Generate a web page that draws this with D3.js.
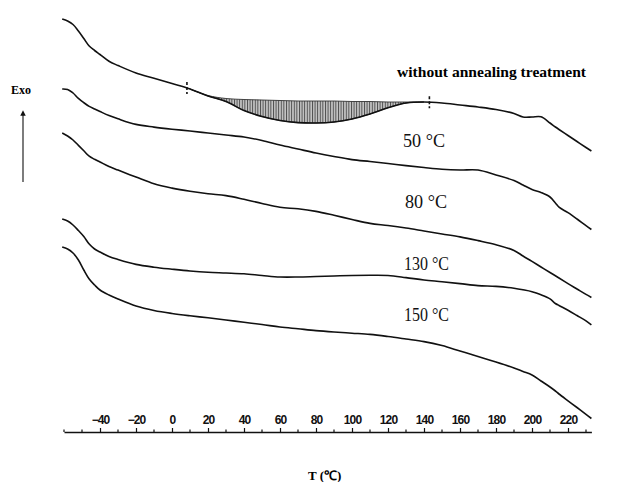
<!DOCTYPE html>
<html>
<head>
<meta charset="utf-8">
<script src="https://cdn.jsdelivr.net/npm/d3@7"></script>
<style>
  body { margin: 0; background: #fff; }
  svg { display: block; }
</style>
</head>
<body>
<div id="chart"></div>
<script>
// temperature grid (°C) shared by every trace
const temps = [-61, -58, -55, -52, -49, -46, -43, -40, -35, -30, -20, -10, 0, 10, 20, 30, 40, 50, 60, 70, 80,
               90, 100, 110, 120, 130, 140, 150, 160, 170, 180, 190, 195, 200, 205, 210, 213, 215, 220, 225, 230, 233];

// DSC heat flow, arbitrary units (larger = further down the page)
const noAnneal = [0.90, 1.10, 1.45, 2.10, 2.85, 3.60, 4.05, 4.45, 5.13, 5.55, 6.30, 6.82, 7.36, 7.90, 8.60, 9.15, 10.05,
                  10.65, 11.05, 11.26, 11.30, 11.20, 10.90, 10.40, 9.77, 9.30, 9.20, 9.30, 9.50, 9.70, 9.95, 10.35,
                  10.70, 10.70, 10.68, 11.30, 11.70, 11.95, 12.55, 13.15, 13.75, 14.10];
const anneal50 = [7.90, 7.95, 8.30, 8.84, 9.27, 9.64, 9.90, 10.15, 10.55, 10.88, 11.44, 11.71, 11.92, 12.10, 12.30, 12.50,
                  12.70, 13.05, 13.50, 13.90, 14.30, 14.65, 14.96, 15.15, 15.35, 15.56, 15.75, 15.92, 16.00, 16.00,
                  16.50, 17.05, 17.50, 17.95, 18.25, 18.70, 19.30, 19.72, 20.27, 20.90, 21.57, 21.95];
const anneal80 = [12.30, 12.60, 13.00, 13.54, 14.08, 14.62, 14.93, 15.20, 15.65, 16.01, 16.71, 17.38, 17.81, 18.13, 18.38,
                  18.56, 18.93, 19.35, 19.73, 19.88, 20.14, 20.53, 20.95, 21.34, 21.55, 21.80, 22.10, 22.40, 22.69,
                  23.06, 23.47, 24.04, 24.60, 25.14, 25.70, 26.25, 26.58, 26.80, 27.36, 27.90, 28.44, 28.75];
const anneal130 = [20.90, 21.10, 21.50, 22.05, 22.65, 23.40, 23.90, 24.20, 24.65, 24.95, 25.44, 25.72, 25.92, 26.10, 26.23,
                   26.30, 26.38, 26.55, 26.70, 26.70, 26.65, 26.60, 26.55, 26.53, 26.55, 26.76, 27.00, 27.17, 27.36,
                   27.56, 27.64, 27.83, 27.98, 28.17, 28.48, 28.89, 29.35, 29.55, 30.03, 30.55, 31.08, 31.48];
const anneal150 = [23.70, 23.90, 24.30, 25.00, 26.00, 26.90, 27.50, 28.00, 28.50, 28.90, 29.60, 30.05, 30.35, 30.58, 30.78,
                   31.00, 31.23, 31.45, 31.70, 31.88, 32.06, 32.20, 32.32, 32.44, 32.65, 32.90, 33.16, 33.56, 34.10,
                   34.64, 35.20, 35.80, 36.15, 36.50, 37.10, 37.70, 38.10, 38.40, 39.08, 39.75, 40.44, 40.85];

// baseline of the hatched relaxation peak (untreated sample)
const peakTemps = [10, 20, 30, 40, 50, 60, 70, 80, 90, 100, 110, 120, 130, 140];
const peakBase = [7.90, 8.55, 8.85, 8.95, 9.00, 9.05, 9.10, 9.10, 9.10, 9.15, 9.15, 9.20, 9.20, 9.20];
const peakLimits = [8.3, 143];

const seriesLabels = ["without annealing treatment", "50 °C", "80 °C", "130 °C", "150 °C"];
const tickLabels = [-40, -20, 0, 20, 40, 60, 80, 100, 120, 140, 160, 180, 200, 220];
const minorTicks = d3.range(-60, 231, 10);

const width = 629, height = 482;

const svg = d3.select("#chart").append("svg")
    .attr("width", width)
    .attr("height", height);

const x = d3.scaleLinear().domain([-60, 233]).range([64, 591.4]);
const y = d3.scaleLinear().domain([0, 42]).range([10, 430]);

const series = [noAnneal, anneal50, anneal80, anneal130, anneal150];

const line = d3.line()
    .x(d => x(d[0]))
    .y(d => y(d[1]))
    .curve(d3.curveCatmullRom.alpha(0.5));

// hatch pattern for the enthalpy relaxation area
const defs = svg.append("defs");
const pat = defs.append("pattern")
    .attr("id", "hatch")
    .attr("patternUnits", "userSpaceOnUse")
    .attr("width", 2.6)
    .attr("height", 6);
pat.append("rect").attr("width", 2.6).attr("height", 6).attr("fill", "#c4c4c4");
pat.append("line")
    .attr("x1", 0.5).attr("x2", 0.5).attr("y1", 0).attr("y2", 6)
    .attr("stroke", "#444").attr("stroke-width", 0.9);

const curveLookup = new Map(temps.map((t, i) => [t, noAnneal[i]]));
const peakData = peakTemps.map((t, i) => ({t: t, lo: peakBase[i], hi: curveLookup.get(t)}));

const area = d3.area()
    .x(d => x(d.t))
    .y0(d => y(d.lo))
    .y1(d => y(d.hi))
    .curve(d3.curveCatmullRom.alpha(0.5));

svg.append("path")
    .datum(peakData)
    .attr("d", area)
    .attr("fill", "url(#hatch)")
    .attr("stroke", "#333")
    .attr("stroke-width", 0.9);

// traces
series.forEach(vals => {
    svg.append("path")
        .datum(temps.map((t, i) => [t, vals[i]]))
        .attr("d", line)
        .attr("fill", "none")
        .attr("stroke", "#111")
        .attr("stroke-width", 1.6);
});

// limits of the integration region
const interp = d3.scaleLinear().domain(temps).range(noAnneal);
peakLimits.forEach(t => {
    svg.append("line")
        .attr("x1", x(t)).attr("x2", x(t))
        .attr("y1", y(interp(t)) - 6).attr("y2", y(interp(t)) + 6)
        .attr("stroke", "#111")
        .attr("stroke-width", 1.6)
        .attr("stroke-dasharray", "3,2");
});

// series labels
const labelFont = "'Liberation Serif', 'Times New Roman', serif";
svg.append("text")
    .attr("x", 397).attr("y", 77)
    .attr("font-family", labelFont)
    .attr("font-weight", "bold")
    .attr("font-size", 15)
    .attr("textLength", 189)
    .attr("lengthAdjust", "spacingAndGlyphs")
    .text(seriesLabels[0]);

const tempLabelPos = [[403, 147], [405, 208], [404, 270], [404, 321]];
seriesLabels.slice(1).forEach((s, i) => {
    svg.append("text")
        .attr("x", tempLabelPos[i][0]).attr("y", tempLabelPos[i][1])
        .attr("font-family", labelFont)
        .attr("font-size", 19)
        .attr("textLength", i < 2 ? 42 : 45)
        .attr("lengthAdjust", "spacingAndGlyphs")
        .attr("fill", "#111")
        .text(s);
});

// x axis
const axisY = 432;
const axis = svg.append("g")
    .attr("transform", "translate(0," + axisY + ")")
    .call(d3.axisTop(x).tickValues(tickLabels).tickSize(4).tickSizeOuter(0).tickPadding(4).tickFormat(d3.format("d")));

axis.select(".domain").attr("stroke", "#111").attr("stroke-width", 1.6);
axis.selectAll(".tick line").attr("stroke", "#111").attr("stroke-width", 1.2);
axis.selectAll(".tick text")
    .attr("fill", "#111")
    .attr("font-family", "'Liberation Sans', Arial, sans-serif")
    .attr("font-weight", "bold")
    .attr("font-size", 12)
    .attr("letter-spacing", "-0.9px");

axis.selectAll(".minor")
    .data(minorTicks.filter(t => tickLabels.indexOf(t) < 0))
    .enter().append("line")
    .attr("class", "minor")
    .attr("x1", d => x(d)).attr("x2", d => x(d))
    .attr("y1", 0).attr("y2", -2.5)
    .attr("stroke", "#111")
    .attr("stroke-width", 1.2);

svg.append("text")
    .attr("x", 308).attr("y", 480)
    .attr("font-family", labelFont)
    .attr("font-weight", "bold")
    .attr("font-size", 13)
    .text("T (℃)");

// Exo arrow
svg.append("text")
    .attr("x", 11).attr("y", 94)
    .attr("font-family", labelFont)
    .attr("font-weight", "bold")
    .attr("font-size", 12)
    .text("Exo");

defs.append("marker")
    .attr("id", "arrow")
    .attr("viewBox", "0 0 10 10")
    .attr("refX", 5).attr("refY", 5)
    .attr("markerWidth", 5).attr("markerHeight", 5)
    .attr("orient", "auto")
    .append("path")
    .attr("d", "M0,0L10,5L0,10Z")
    .attr("fill", "#111");

svg.append("line")
    .attr("x1", 23).attr("x2", 23)
    .attr("y1", 182).attr("y2", 113)
    .attr("stroke", "#111")
    .attr("stroke-width", 1.1)
    .attr("marker-end", "url(#arrow)");
</script>
</body>
</html>
